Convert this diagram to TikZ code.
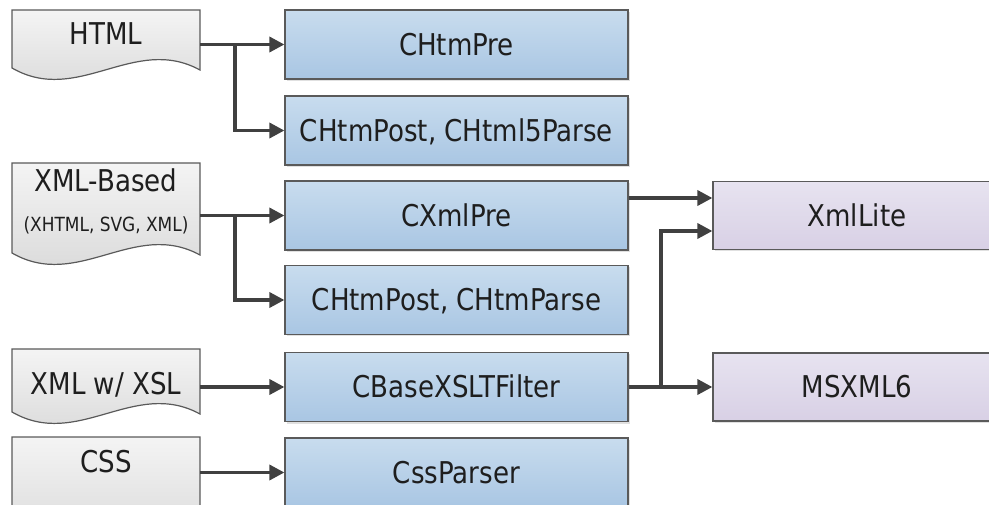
\documentclass[tikz,border=0pt]{standalone}
\usepackage{fontspec}
\setmainfont{DejaVu Sans}[FakeStretch=0.87]
\usetikzlibrary{arrows.meta,shadows}
\definecolor{boxline}{HTML}{5A5A5A}
\definecolor{bluetop}{HTML}{C8DCEE}
\definecolor{bluebot}{HTML}{A9C6E3}
\definecolor{purtop}{HTML}{E7E3F0}
\definecolor{purbot}{HTML}{D8D0E5}
\definecolor{doctop}{HTML}{F4F4F4}
\definecolor{docbot}{HTML}{D6D6D6}
\definecolor{arrowc}{HTML}{404040}
\definecolor{txt}{HTML}{1E1E1E}
\tikzset{
  boxbase/.style={draw=boxline, line width=1.2pt, inner sep=0pt, text=txt,
    font=\fontsize{30}{36}\selectfont, text height=22pt, text depth=0pt,
    drop shadow={shadow xshift=2pt, shadow yshift=-2pt, opacity=0.12, fill=black}},
  bluebox/.style={boxbase, top color=bluetop, bottom color=bluebot,
    minimum width=343pt, minimum height=69pt},
  purbox/.style={boxbase, top color=purtop, bottom color=purbot,
    minimum width=288pt, minimum height=68pt},
  docstyle/.style={draw=boxline, line width=1.2pt, top color=doctop, bottom color=docbot},
  doctext/.style={inner sep=0pt, minimum width=188pt, text=txt,
    font=\fontsize{30}{36}\selectfont},
  docsub/.style={inner sep=0pt, minimum width=188pt, text=txt,
    font=\fontsize{19.5}{23}\selectfont},
  arr/.style={draw=arrowc, line width=3.5pt, -{Triangle[length=15pt,width=15pt]}},
}
\newcommand\docshape[2]{%
  \path[docstyle] (12,#1) -- (200,#1) -- (200,#2+2)
    .. controls (134,#2-34) and (78,#2+38) .. (12,#2) -- cycle;}
\begin{document}
\begin{tikzpicture}[x=1pt,y=-1pt]
\useasboundingbox (0,0) rectangle (989,505);
\clip (0,0) rectangle (989,505);
% documents
\docshape{10}{68}
\docshape{163}{253}
\docshape{349}{412}
\docshape{437}{520}
\node[doctext, anchor=base] (html) at (106,45) {HTML};
\node[doctext, anchor=base] (xml) at (106,192) {XML-Based};
\node[docsub, anchor=base] (xmlsub) at (106,232) {(XHTML, SVG, XML)};
\node[doctext, anchor=base] (xsl) at (106,395) {XML w/ XSL};
\node[doctext, anchor=base] (cssdoc) at (106,472) {CSS};
% blue boxes
\node[bluebox] (pre) at (456.5,44.5) {CHtmPre};
\node[bluebox] (post1) at (456.5,130.5) {CHtmPost, CHtml5Parse};
\node[bluebox] (xpre) at (456.5,215.5) {CXmlPre};
\node[bluebox] (post2) at (456.5,300) {CHtmPost, CHtmParse};
\node[bluebox] (xslt) at (456.5,387) {CBaseXSLTFilter};
\node[bluebox] (css) at (456.5,472.5) {CssParser};
% purple boxes
\node[purbox] (lite) at (857,215.5) {XmlLite};
\node[purbox] (msxml) at (857,387) {MSXML6};
% connectors
\coordinate (hb) at (235,0);
\coordinate (vb) at (661,0);
\draw[arr] (html.east |- pre) -- (pre.west);
\draw[arr] (hb |- pre) |- (post1.west);
\draw[arr] (xml.east |- xpre) -- (xpre.west);
\draw[arr] (hb |- xpre) |- (post2.west);
\draw[arr] (xsl.east |- xslt) -- (xslt.west);
\draw[arr] (cssdoc.east |- css) -- (css.west);
\coordinate (x1) at ([yshift=17.5pt]xpre.east);
\coordinate (x2) at ([yshift=-15.5pt]lite.west);
\draw[arr] (x1) -- (x1 -| lite.west);
\draw[arr] (xslt.east) -- (msxml.west);
\draw[arr] (vb |- xslt.east) |- (x2);
\end{tikzpicture}
\end{document}
